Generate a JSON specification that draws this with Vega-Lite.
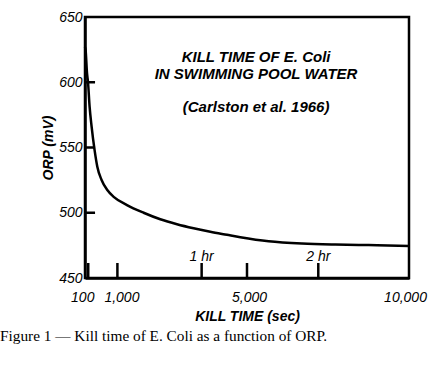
{
  "$schema": "https://vega.github.io/schema/vega-lite/v6.json",
  "width": 324,
  "height": 261,
  "autosize": {"type": "none"},
  "padding": {"left": 85, "top": 17, "right": 38, "bottom": 87},
  "config": {
    "view": {"stroke": "black", "strokeWidth": 2.5},
    "font": "Liberation Sans",
    "axis": {
      "domainColor": "black", "domainWidth": 2.5, "grid": false, "ticks": false,
      "labelFont": "Liberation Sans", "labelFontStyle": "italic", "labelFontSize": 14, "labelColor": "black",
      "titleFont": "Liberation Sans", "titleFontStyle": "italic", "titleFontWeight": "bold", "titleFontSize": 14, "titleColor": "black"
    }
  },
  "title": {
    "text": "Figure 1 — Kill time of E. Coli as a function of ORP.",
    "orient": "bottom", "anchor": "start", "frame": "group",
    "font": "Liberation Serif", "fontSize": 15.3, "fontWeight": "normal", "color": "black",
    "dx": -85, "offset": 6
  },
  "layer": [
    {
      "data": {"values": [
        {"t": 0, "orp": 627},
        {"t": 18, "orp": 624.7},
        {"t": 62, "orp": 607},
        {"t": 93, "orp": 600},
        {"t": 142, "orp": 581.3},
        {"t": 204, "orp": 566},
        {"t": 296, "orp": 548},
        {"t": 380, "orp": 535.3},
        {"t": 512, "orp": 525.1},
        {"t": 688, "orp": 517.4},
        {"t": 895, "orp": 512.0},
        {"t": 1296, "orp": 505.9},
        {"t": 1809, "orp": 500.0},
        {"t": 2324, "orp": 495.0},
        {"t": 2840, "orp": 491.2},
        {"t": 3352, "orp": 488.1},
        {"t": 3867, "orp": 485.4},
        {"t": 4383, "orp": 483.1},
        {"t": 4793, "orp": 481.3},
        {"t": 5667, "orp": 478.2},
        {"t": 6698, "orp": 476.4},
        {"t": 7725, "orp": 475.6},
        {"t": 8753, "orp": 475.2},
        {"t": 10000, "orp": 474.6}
      ]},
      "mark": {"type": "line", "interpolate": "monotone", "color": "black", "strokeWidth": 2.5},
      "encoding": {
        "x": {"field": "t", "type": "quantitative", "scale": {"domain": [0, 10000], "nice": false, "zero": false},
          "axis": {"title": "KILL TIME (sec)", "values": [100, 1000, 5000, 10000], "labelExpr": "format(datum.value, ',')", "labelFlush": false, "labelOverlap": false, "labelPadding": 12, "titlePadding": 5,
            "labelOffset": {"expr": "datum.value == 100 ? -6 : datum.value == 1000 ? 4 : datum.value == 5000 ? 2 : -4"}}},
        "y": {"field": "orp", "type": "quantitative", "scale": {"domain": [450, 650], "nice": false, "zero": false},
          "axis": {"title": "ORP (mV)", "values": [450, 500, 550, 600, 650], "labelExpr": "format(datum.value, 'd')", "labelPadding": 3, "titlePadding": 3, "labelFlush": false, "labelOverlap": false}}
      }
    },
    {
      "data": {"values": [{"t": 100}, {"t": 1000}, {"t": 3600}, {"t": 5000}, {"t": 7200}]},
      "mark": {"type": "rule", "color": "black", "strokeWidth": 2.5},
      "encoding": {
        "x": {"field": "t", "type": "quantitative"},
        "y": {"datum": 450},
        "y2": {"datum": 461.5}
      }
    },
    {
      "data": {"values": [{"v": 500}, {"v": 550}, {"v": 600}]},
      "mark": {"type": "rule", "color": "black", "strokeWidth": 2.5},
      "encoding": {
        "y": {"field": "v", "type": "quantitative"},
        "x": {"datum": 0},
        "x2": {"datum": 310}
      }
    },
    {
      "data": {"values": [
        {"t": 5280, "v": 619, "label": "KILL TIME OF E. Coli"},
        {"t": 5280, "v": 606.5, "label": "IN SWIMMING POOL WATER"},
        {"t": 5280, "v": 581, "label": "(Carlston et al. 1966)"}
      ]},
      "mark": {"type": "text", "font": "Liberation Sans", "fontSize": 15, "fontWeight": "bold", "fontStyle": "italic", "color": "black", "baseline": "middle", "align": "center"},
      "encoding": {
        "x": {"field": "t", "type": "quantitative"},
        "y": {"field": "v", "type": "quantitative"},
        "text": {"field": "label"}
      }
    },
    {
      "data": {"values": [
        {"t": 3600, "v": 466, "label": "1 hr"},
        {"t": 7200, "v": 466, "label": "2 hr"}
      ]},
      "mark": {"type": "text", "font": "Liberation Sans", "fontSize": 14, "fontStyle": "italic", "color": "black", "baseline": "middle", "align": "center"},
      "encoding": {
        "x": {"field": "t", "type": "quantitative"},
        "y": {"field": "v", "type": "quantitative"},
        "text": {"field": "label"}
      }
    }
  ]
}
